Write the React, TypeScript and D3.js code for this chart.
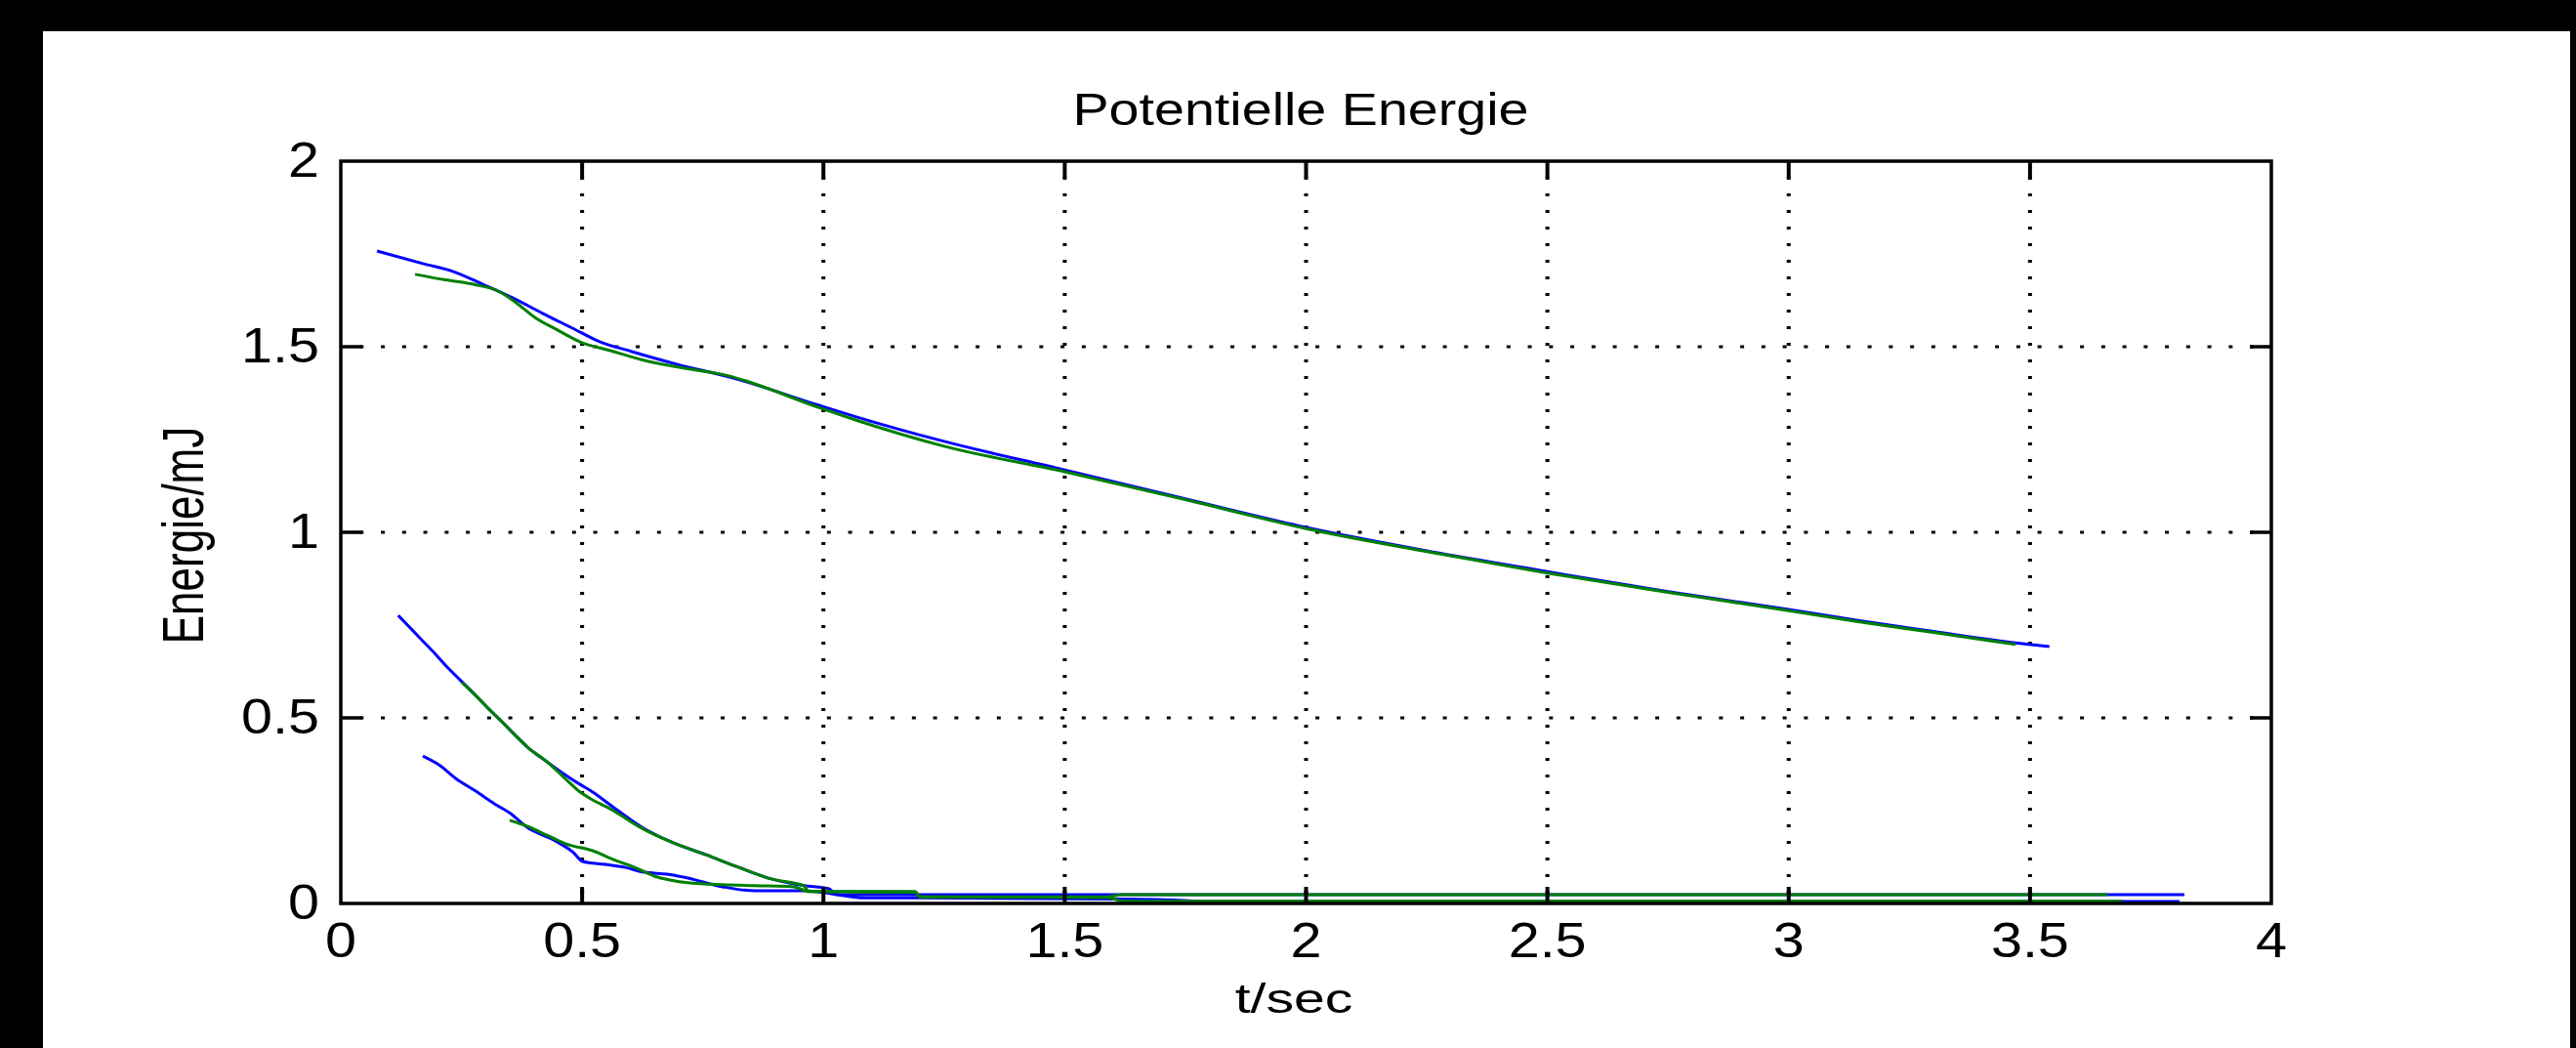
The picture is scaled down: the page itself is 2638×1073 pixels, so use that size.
import * as d3 from "d3";

// time (s) and energy (mJ)
const upperBlueT = [0.075, 0.17, 0.232, 0.293, 0.356, 0.418, 0.48, 0.534, 0.603, 0.696, 0.82, 0.991, 1.068, 1.25, 1.5, 1.75, 2.0, 2.25, 2.5, 2.75, 3.0, 3.14, 3.3, 3.47, 3.54];
const upperBlueE = [1.758, 1.724, 1.703, 1.669, 1.632, 1.59, 1.55, 1.515, 1.487, 1.453, 1.413, 1.342, 1.311, 1.245, 1.168, 1.09, 1.013, 0.95, 0.894, 0.84, 0.792, 0.763, 0.733, 0.702, 0.692];

const upperGreenT = [0.154, 0.217, 0.279, 0.326, 0.364, 0.402, 0.449, 0.496, 0.557, 0.635, 0.712, 0.789, 0.991, 1.068, 1.25, 1.5, 1.75, 2.0, 2.25, 2.5, 2.75, 3.0, 3.14, 3.3, 3.47];
const upperGreenE = [1.695, 1.68, 1.667, 1.65, 1.618, 1.579, 1.545, 1.513, 1.49, 1.461, 1.442, 1.426, 1.336, 1.302, 1.232, 1.163, 1.088, 1.01, 0.948, 0.89, 0.838, 0.789, 0.76, 0.73, 0.698];

const midBlueT = [0.119, 0.164, 0.191, 0.218, 0.245, 0.279, 0.305, 0.332, 0.36, 0.387, 0.427, 0.467, 0.494, 0.522, 0.562, 0.623, 0.684, 0.757, 0.825, 0.892, 0.959, 1.01, 1.03, 3.82];
const midBlueE = [0.776, 0.715, 0.679, 0.64, 0.605, 0.561, 0.526, 0.492, 0.455, 0.421, 0.382, 0.345, 0.322, 0.3, 0.262, 0.206, 0.166, 0.131, 0.097, 0.066, 0.048, 0.04, 0.024, 0.024];

const midGreenT = [0.251, 0.279, 0.305, 0.332, 0.36, 0.387, 0.427, 0.467, 0.494, 0.514, 0.562, 0.623, 0.684, 0.757, 0.825, 0.892, 0.959, 0.97, 1.19, 1.2, 1.59, 1.62, 3.66];
const midGreenE = [0.595, 0.561, 0.526, 0.492, 0.455, 0.421, 0.382, 0.334, 0.302, 0.285, 0.252, 0.203, 0.166, 0.131, 0.097, 0.066, 0.048, 0.032, 0.032, 0.018, 0.018, 0.024, 0.024];

const lowBlueT = [0.17, 0.204, 0.238, 0.279, 0.319, 0.352, 0.386, 0.441, 0.482, 0.501, 0.548, 0.589, 0.629, 0.676, 0.71, 0.791, 0.858, 0.959, 1.09, 1.2, 1.6, 1.71, 1.8, 3.81];
const lowBlueE = [0.397, 0.373, 0.337, 0.303, 0.268, 0.242, 0.205, 0.171, 0.137, 0.113, 0.105, 0.097, 0.084, 0.079, 0.071, 0.045, 0.034, 0.034, 0.015, 0.015, 0.012, 0.01, 0.005, 0.005];

const lowGreenT = [0.35, 0.386, 0.427, 0.467, 0.522, 0.569, 0.609, 0.656, 0.69, 0.745, 0.858, 0.939, 0.97, 1.19, 1.2, 1.59, 1.62, 3.69];
const lowGreenE = [0.224, 0.208, 0.184, 0.16, 0.142, 0.116, 0.097, 0.071, 0.061, 0.053, 0.048, 0.045, 0.032, 0.03, 0.018, 0.016, 0.006, 0.006];

const xTicks = [0, 0.5, 1, 1.5, 2, 2.5, 3, 3.5, 4];
const yTicks = [0, 0.5, 1, 1.5, 2];
const xTickLabels = ["0", "0.5", "1", "1.5", "2", "2.5", "3", "3.5", "4"];
const yTickLabels = ["0", "0.5", "1", "1.5", "2"];

const W = 2638;
const H = 1073;
const left = 349;
const right = 2326;
const top = 165;
const bottom = 925;
const BLUE = "#0000ff";
const GREEN = "#008000";
const FONT = "'Liberation Sans', Arial, Helvetica, sans-serif";

const x = d3.scaleLinear().domain([0, 4]).range([left, right]);
const y = d3.scaleLinear().domain([0, 2]).range([bottom, top]);

const line = d3
  .line<[number, number]>()
  .x((d) => x(d[0]))
  .y((d) => y(d[1]))
  .curve(d3.curveMonotoneX);

const zip = (t: number[], e: number[]) => t.map((v, i) => [v, e[i]] as [number, number]);

const series = [
  { t: upperBlueT, e: upperBlueE, c: BLUE },
  { t: midBlueT, e: midBlueE, c: BLUE },
  { t: lowBlueT, e: lowBlueE, c: BLUE },
  { t: upperGreenT, e: upperGreenE, c: GREEN },
  { t: midGreenT, e: midGreenE, c: GREEN },
  { t: lowGreenT, e: lowGreenE, c: GREEN },
];

export default function App() {
  const inner = (v: number) => v > 0 && v < 4;
  return (
    <svg
      width={W}
      height={H}
      style={{ position: "absolute", left: 0, top: 0, display: "block" }}
    >
      <rect x={0} y={0} width={W} height={H} fill="#000" />
      <rect x={44} y={32} width={2588} height={H - 32} fill="#fff" />

      {/* grid */}
      {xTicks.filter(inner).map((v) => (
        <line
          key={"gx" + v}
          x1={x(v)}
          x2={x(v)}
          y1={top}
          y2={bottom}
          stroke="#000"
          strokeWidth={4}
          strokeDasharray="3 14"
          strokeDashoffset={1}
        />
      ))}
      {yTicks.filter((v) => v > 0 && v < 2).map((v) => (
        <line
          key={"gy" + v}
          x1={left}
          x2={right}
          y1={y(v)}
          y2={y(v)}
          stroke="#000"
          strokeWidth={3}
          strokeDasharray="4 17.75"
          strokeDashoffset={2.4}
        />
      ))}

      {/* data */}
      {series.map((s, i) => (
        <path
          key={i}
          d={line(zip(s.t, s.e)) ?? ""}
          fill="none"
          stroke={s.c}
          strokeWidth={3}
        />
      ))}

      {/* ticks */}
      {xTicks.filter(inner).map((v) => (
        <g key={"tx" + v} stroke="#000" strokeWidth={4}>
          <line x1={x(v)} x2={x(v)} y1={bottom} y2={bottom - 17} />
          <line x1={x(v)} x2={x(v)} y1={top} y2={top + 17} />
        </g>
      ))}
      {yTicks.filter((v) => v > 0 && v < 2).map((v) => (
        <g key={"ty" + v} stroke="#000" strokeWidth={3.5}>
          <line x1={left} x2={left + 22} y1={y(v)} y2={y(v)} />
          <line x1={right} x2={right - 22} y1={y(v)} y2={y(v)} />
        </g>
      ))}

      {/* box */}
      <rect
        x={left}
        y={top}
        width={right - left}
        height={bottom - top}
        fill="none"
        stroke="#000"
        strokeWidth={3.5}
      />

      {/* tick labels */}
      {xTicks.map((v, i) => (
        <text
          key={"lx" + v}
          transform={`translate(${x(v)},980) scale(1.15,1)`}
          textAnchor="middle"
          fontFamily={FONT}
          fontSize={50}
          fill="#000"
        >
          {xTickLabels[i]}
        </text>
      ))}
      {yTicks.map((v, i) => (
        <text
          key={"ly" + v}
          transform={`translate(327,${y(v) + 16}) scale(1.15,1)`}
          textAnchor="end"
          fontFamily={FONT}
          fontSize={50}
          fill="#000"
        >
          {yTickLabels[i]}
        </text>
      ))}

      {/* title and axis labels */}
      <text
        transform="translate(1332,128) scale(1.21,1)"
        textAnchor="middle"
        fontFamily={FONT}
        fontSize={46}
        fill="#000"
      >
        Potentielle Energie
      </text>
      <text
        transform="translate(1325,1037) scale(1.33,1)"
        textAnchor="middle"
        fontFamily={FONT}
        fontSize={43}
        fill="#000"
      >
        t/sec
      </text>
      <text
        transform="translate(208,548) scale(1.35,1) rotate(-90)"
        textAnchor="middle"
        fontFamily={FONT}
        fontSize={44}
        fill="#000"
      >
        Energie/mJ
      </text>
    </svg>
  );
}
